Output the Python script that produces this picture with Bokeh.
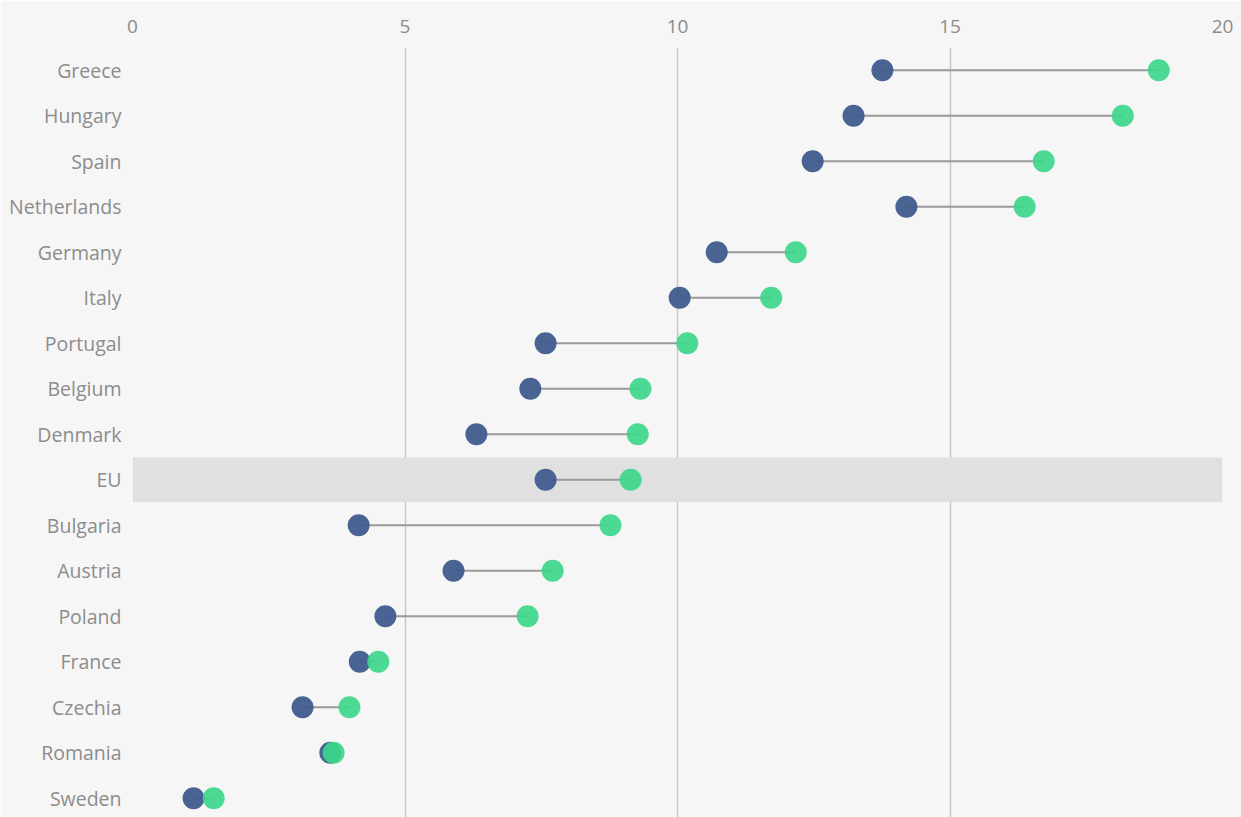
from bokeh.plotting import figure
from bokeh.models import ColumnDataSource, BoxAnnotation, FixedTicker, Range1d
from bokeh.embed import file_html
from bokeh.resources import INLINE

countries = ["Greece", "Hungary", "Spain", "Netherlands", "Germany", "Italy", "Portugal",
             "Belgium", "Denmark", "EU", "Bulgaria", "Austria", "Poland", "France",
             "Czechia", "Romania", "Sweden"]
start_values = [13.76, 13.23, 12.48, 14.20, 10.72, 10.04, 7.58, 7.30, 6.31, 7.58,
                4.15, 5.89, 4.64, 4.17, 3.12, 3.63, 1.12]
end_values = [18.83, 18.17, 16.72, 16.37, 12.17, 11.72, 10.18, 9.32, 9.27, 9.14,
              8.77, 7.71, 7.25, 4.51, 3.98, 3.69, 1.49]
x_ticks = [0, 5, 10, 15, 20]

positions = list(range(len(countries)))
src = ColumnDataSource(dict(y=positions, x0=start_values, x1=end_values, name=countries))

BG = "#f6f6f6"
FONT = "Open Sans"
LABEL_COLOR = "#8c8c8c"

p = figure(width=1241, height=817, output_backend="svg", toolbar_location=None,
           x_range=Range1d(0, 20), y_range=Range1d(16.423, -0.5),
           x_axis_location="above",
           min_border_left=132, min_border_right=19, min_border_top=47, min_border_bottom=0)
p.background_fill_color = BG
p.border_fill_color = BG
p.outline_line_color = None

# EU highlight band
eu = countries.index("EU")
p.add_layout(BoxAnnotation(bottom=eu - 0.49, top=eu + 0.49, fill_color="#e0e0e0",
                           fill_alpha=1.0, line_color=None, level="underlay"))

p.segment(x0="x0", y0="y", x1="x1", y1="y", source=src, line_color="#9a9a9a", line_width=2)
p.scatter(x="x0", y="y", source=src, size=22, fill_color="#3f5b8c", line_color=None, fill_alpha=0.95)
p.scatter(x="x1", y="y", source=src, size=22, fill_color="#3dd68a", line_color=None, fill_alpha=0.92)

# axes
xa = p.xaxis[0]
xa.ticker = FixedTicker(ticks=x_ticks)
xa.axis_line_color = None
xa.major_tick_line_color = None
xa.minor_tick_line_color = None
xa.major_label_text_font = FONT
xa.major_label_text_font_size = "19px"
xa.major_label_text_color = LABEL_COLOR
xa.major_label_standoff = 9

ya = p.yaxis[0]
ya.ticker = FixedTicker(ticks=positions)
ya.major_label_overrides = {i: c for i, c in enumerate(countries)}
ya.axis_line_color = None
ya.major_tick_line_color = None
ya.minor_tick_line_color = None
ya.major_label_text_font = FONT
ya.major_label_text_font_size = "19.5px"
ya.major_label_text_color = LABEL_COLOR
ya.major_label_standoff = 5

p.xgrid.ticker = FixedTicker(ticks=x_ticks)
p.xgrid.grid_line_color = "#c8c8c8"
p.xgrid.grid_line_width = 1.5
p.ygrid.grid_line_color = None

open("out.html", "w").write(file_html(p, INLINE))
